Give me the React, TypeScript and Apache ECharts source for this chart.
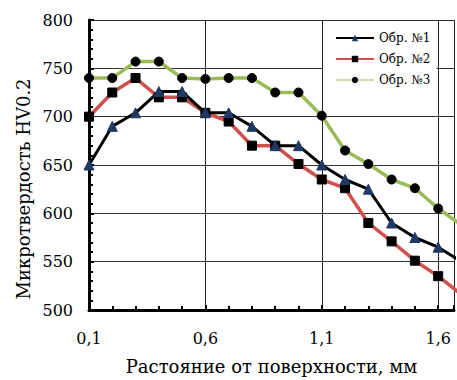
import React, { useEffect, useRef } from "react";
import * as echarts from "echarts";

const xValues = [0.1, 0.2, 0.3, 0.4, 0.5, 0.6, 0.7, 0.8, 0.9, 1.0, 1.1, 1.2, 1.3, 1.4, 1.5, 1.6, 1.7];
const seriesNames = ["Обр. №1", "Обр. №2", "Обр. №3"];
const sample1 = [650, 690, 704, 726, 726, 704, 704, 690, 670, 670, 650, 635, 625, 590, 575, 565, 550];
const sample2 = [700, 725, 740, 720, 720, 704, 695, 670, 670, 651, 635, 626, 590, 571, 551, 535, 516];
const sample3 = [740, 740, 757, 757, 740, 739, 740, 740, 725, 725, 701, 665, 651, 635, 626, 605, 588];
const xTickLabels = [0.1, 0.6, 1.1, 1.6];
const yTitle = "Микротвердость HV0.2";
const xTitle = "Растояние от поверхности, мм";

const FONT = "'DejaVu Serif', 'Liberation Serif', serif";

export default function App() {
  const ref = useRef<HTMLDivElement>(null);
  useEffect(() => {
    if (!ref.current) return;
    const chart = echarts.init(ref.current, null, { renderer: "svg" });
    const pair = (ys: number[]) => xValues.map((x, i) => [x, ys[i]]);
    chart.setOption({
      animation: false,
      textStyle: { fontFamily: FONT, color: "#000" },
      grid: { left: 89, top: 20, right: 0, bottom: 69 },
      graphic: [
        {
          type: "text",
          x: 23,
          y: 189,
          rotation: Math.PI / 2,
          style: {
            text: yTitle,
            fontFamily: FONT,
            fontSize: 18,
            fill: "#000",
            textAlign: "center",
            textVerticalAlign: "middle",
          },
        },
      ],
      legend: {
        left: 323,
        top: 21,
        orient: "vertical",
        backgroundColor: "#fff",
        padding: [11, 6, 8, 12],
        itemGap: 9,
        itemWidth: 38,
        itemHeight: 8,
        textStyle: { fontFamily: FONT, fontSize: 12, color: "#000" },
        data: [
          { name: seriesNames[0], lineStyle: { width: 2 } },
          { name: seriesNames[1], lineStyle: { width: 2 } },
          { name: seriesNames[2], lineStyle: { width: 1 } },
        ],
      },
      xAxis: {
        type: "value",
        min: 0.1,
        max: 1.668,
        interval: 0.5,
        name: xTitle,
        nameLocation: "middle",
        nameGap: 47,
        nameTextStyle: { fontFamily: FONT, fontSize: 18, color: "#000" },
        axisLine: { show: true, onZero: false, lineStyle: { color: "#000", width: 3 } },
        axisTick: { show: true, inside: true, length: 5, lineStyle: { color: "#000", width: 2 } },
        minorTick: { show: true, splitNumber: 5, length: 4, lineStyle: { color: "#000", width: 2 } },
        axisLabel: {
          fontFamily: FONT,
          fontSize: 16,
          color: "#000",
          margin: 20,
          formatter: (v: number) =>
            xTickLabels.some((t) => Math.abs(t - v) < 1e-6) ? v.toFixed(1).replace(".", ",") : "",
        },
        splitLine: { show: true, lineStyle: { color: "#222", width: 1 } },
      },
      yAxis: {
        type: "value",
        min: 500,
        max: 800,
        interval: 50,
        axisLine: { show: true, lineStyle: { color: "#000", width: 3 } },
        axisTick: { show: true, inside: true, length: 5, lineStyle: { color: "#000", width: 2 } },
        minorTick: { show: true, splitNumber: 5, length: 4, lineStyle: { color: "#000", width: 2 } },
        axisLabel: { fontFamily: FONT, fontSize: 16, color: "#000", margin: 16 },
        splitLine: { show: true, lineStyle: { color: "#333", width: 1 } },
      },
      series: [
        {
          name: seriesNames[0],
          type: "line",
          data: pair(sample1),
          lineStyle: { color: "#000", width: 3 },
          itemStyle: { color: "#1f3864", borderColor: "#1f3864" },
          symbol: "triangle",
          symbolSize: 10,
          z: 4,
        },
        {
          name: seriesNames[1],
          type: "line",
          data: pair(sample2),
          lineStyle: { color: "#d0504d", width: 3.5 },
          itemStyle: { color: "#000", borderColor: "#000" },
          symbol: "rect",
          symbolSize: 9,
          z: 3,
        },
        {
          name: seriesNames[2],
          type: "line",
          data: pair(sample3),
          lineStyle: { color: "#9bbb59", width: 3.5 },
          itemStyle: { color: "#000", borderColor: "#000" },
          symbol: "circle",
          symbolSize: 9,
          z: 2,
        },
      ],
    });
    return () => chart.dispose();
  }, []);
  return (
    <div
      ref={ref}
      style={{ position: "fixed", left: 0, top: 0, width: 457, height: 380, background: "#fff" }}
    />
  );
}
